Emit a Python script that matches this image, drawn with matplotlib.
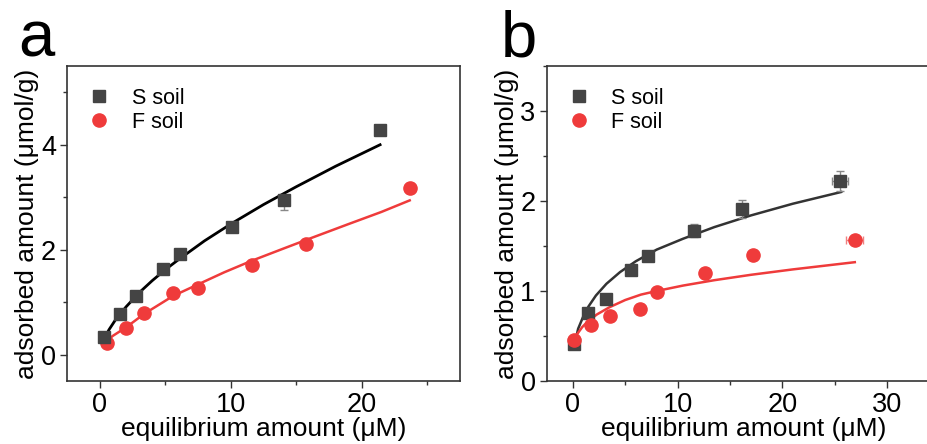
import matplotlib
matplotlib.use("Agg")
import matplotlib.pyplot as plt
from matplotlib.lines import Line2D
from matplotlib.ticker import MultipleLocator

plt.rcParams['font.family'] = ['Liberation Sans', 'DejaVu Sans']

# panel a: measured points
a_s_x = [0.3, 1.53, 2.8, 4.8, 6.13, 10.1, 14.07, 21.4]
a_s_y = [0.33, 0.77, 1.11, 1.63, 1.92, 2.43, 2.95, 4.29]
a_s_err_lo = [0, 0, 0, 0, 0, 0, 0.2, 0]
a_s_err_hi = [0, 0, 0, 0, 0, 0, 0.0, 0]
a_f_x = [0.56, 1.98, 3.38, 5.62, 7.48, 11.6, 15.78, 23.66]
a_f_y = [0.22, 0.51, 0.80, 1.17, 1.27, 1.71, 2.10, 3.17]

# panel a: fitted curves
a_s_fit_x = [0.3, 0.7, 1.2, 2, 3, 4, 5, 6, 8, 10, 12.5, 15, 18, 21.4]
a_s_fit_y = [0.28, 0.475, 0.665, 0.91, 1.18, 1.41, 1.62, 1.81, 2.17, 2.49, 2.86, 3.20, 3.59, 4.00]
a_f_fit_x = [0.25, 1, 2, 3.4, 5.6, 7.5, 9.5, 11.6, 14, 16, 19, 21.5, 23.66]
a_f_fit_y = [0.20, 0.36, 0.52, 0.78, 1.12, 1.34, 1.57, 1.79, 2.02, 2.21, 2.49, 2.72, 2.94]

# panel b: measured points
b_s_x = [0.1, 1.43, 3.18, 5.5, 7.19, 11.6, 16.15, 25.5]
b_s_y = [0.41, 0.76, 0.91, 1.23, 1.39, 1.67, 1.91, 2.22]
b_s_yerr = [0, 0, 0, 0, 0.03, 0.07, 0.1, 0.11]
b_s_xerr = [0, 0, 0, 0, 0, 0, 0, 0.75]
b_f_x = [0.1, 1.75, 3.5, 6.4, 7.98, 12.57, 17.2, 26.9]
b_f_y = [0.45, 0.62, 0.72, 0.80, 0.99, 1.20, 1.40, 1.57]
b_f_xerr = [0, 0, 0, 0, 0, 0, 0, 0.8]

# panel b: fitted curves
b_s_fit_x = [0.15, 0.5, 1.0, 1.5, 2.2, 3.2, 4.5, 6, 8, 10.5, 13.5, 17, 21, 25.6]
b_s_fit_y = [0.40, 0.58, 0.72, 0.83, 0.95, 1.08, 1.21, 1.33, 1.46, 1.58, 1.71, 1.84, 1.97, 2.10]
b_f_fit_x = [0.05, 0.4, 0.9, 1.5, 2.3, 3.5, 5, 6.5, 8, 10.5, 13.5, 17, 21, 26.9]
b_f_fit_y = [0.40, 0.52, 0.60, 0.67, 0.74, 0.82, 0.90, 0.96, 1.00, 1.06, 1.12, 1.18, 1.24, 1.32]

labels = ['S soil', 'F soil']

S_COLOR = '#444444'
F_COLOR = '#ef3b3b'
SPINE = '#333333'

fig = plt.figure(figsize=(9.28, 4.44), dpi=100)
ax_a = fig.add_axes([0.0722, 0.1419, 0.4235, 0.7095])
ax_b = fig.add_axes([0.5891, 0.1419, 0.4235, 0.7095])


def style_axes(ax):
    for sp in ax.spines.values():
        sp.set_color(SPINE)
        sp.set_linewidth(1.2)
    ax.tick_params(which='both', direction='out', top=False, right=False,
                   color=SPINE, width=1.0, labelsize=19.5, pad=3)
    ax.tick_params(which='major', length=5)
    ax.tick_params(which='minor', length=3)
    ax.set_xlabel('equilibrium amount (μM)', fontsize=19, labelpad=-1)
    ax.set_ylabel('adsorbed amount (μmol/g)', fontsize=19, labelpad=1)
    handles = [Line2D([], [], ls='none', marker='s', ms=8.5, color=S_COLOR),
               Line2D([], [], ls='none', marker='o', ms=9.5, color=F_COLOR)]
    ax.legend(handles, labels, loc='upper left', frameon=False, fontsize=15.5,
              handlelength=1.0, handletextpad=1.0, borderaxespad=0.5,
              borderpad=0.5, labelspacing=0.15)


# panel a
ax = ax_a
ax.plot(a_s_fit_x, a_s_fit_y, color='black', lw=2, zorder=2)
ax.plot(a_f_fit_x, a_f_fit_y, color=F_COLOR, lw=1.8, zorder=2)
ax.errorbar(a_s_x, a_s_y, yerr=[a_s_err_lo, a_s_err_hi], fmt='s', ms=9,
            color=S_COLOR, ecolor='#888888', elinewidth=1, capsize=3, zorder=3)
ax.plot(a_f_x, a_f_y, 'o', ms=9.5, color=F_COLOR, zorder=3)
ax.set_xlim(-2.5, 27.5)
ax.set_ylim(-0.5, 5.5)
ax.xaxis.set_major_locator(MultipleLocator(10))
ax.xaxis.set_minor_locator(MultipleLocator(5))
ax.yaxis.set_major_locator(MultipleLocator(2))
ax.yaxis.set_minor_locator(MultipleLocator(1))
style_axes(ax)
fig.text(0.020, 0.873, 'a', fontsize=47)

# panel b
ax = ax_b
ax.plot(b_s_fit_x, b_s_fit_y, color='#333333', lw=1.8, zorder=2)
ax.plot(b_f_fit_x, b_f_fit_y, color=F_COLOR, lw=1.8, zorder=2)
ax.errorbar(b_s_x, b_s_y, yerr=b_s_yerr, xerr=b_s_xerr, fmt='s', ms=9,
            color=S_COLOR, ecolor='#888888', elinewidth=1, capsize=3, zorder=3)
ax.errorbar(b_f_x, b_f_y, xerr=b_f_xerr, fmt='o', ms=9.5, color=F_COLOR,
            ecolor='#f08080', elinewidth=1, capsize=3, zorder=3)
ax.set_xlim(-2.5, 35)
ax.set_ylim(0, 3.5)
ax.xaxis.set_major_locator(MultipleLocator(10))
ax.xaxis.set_minor_locator(MultipleLocator(5))
ax.yaxis.set_major_locator(MultipleLocator(1))
ax.yaxis.set_minor_locator(MultipleLocator(0.5))
style_axes(ax)
fig.text(0.540, 0.873, 'b', fontsize=47)

fig.savefig('out.png', dpi=100)
